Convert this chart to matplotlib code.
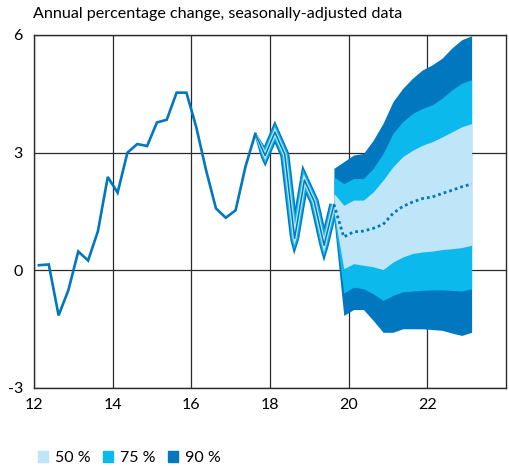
import matplotlib
matplotlib.use('Agg')
import matplotlib.pyplot as plt
import numpy as np
from matplotlib.patches import Patch

plt.rcParams['font.family'] = ['Lato', 'DejaVu Sans']
plt.rcParams['axes.unicode_minus'] = False

# Quarterly observations (mid-quarter positions), single line before the bands
hist_x = [12.125, 12.375, 12.625, 12.875, 13.125, 13.375, 13.625, 13.875,
          14.125, 14.375, 14.625, 14.875, 15.125, 15.375, 15.625, 15.875,
          16.125, 16.375, 16.625, 16.875, 17.125, 17.375, 17.625]
hist_y = [0.13, 0.15, -1.15, -0.5, 0.48, 0.25, 1.0, 2.38,
          1.98, 3.0, 3.22, 3.17, 3.77, 3.84, 4.53, 4.53,
          3.65, 2.55, 1.58, 1.34, 1.53, 2.64, 3.48]

# Recent observations still subject to revision (drawn inside a narrow band)
rev_x = [17.625, 17.875, 18.125, 18.375, 18.625, 18.875, 19.125, 19.375, 19.625]
rev_y = [3.48, 2.93, 3.52, 2.95, 0.82, 2.3, 1.75, 0.64, 1.68]

# Forecast fan
fan_x = [19.625, 19.875, 20.125, 20.375, 20.625, 20.875, 21.125, 21.375,
         21.625, 21.875, 22.125, 22.375, 22.625, 22.875, 23.125]
center = [1.68, 0.85, 0.98, 1.0, 1.07, 1.17, 1.45, 1.63,
          1.74, 1.83, 1.87, 1.96, 2.04, 2.13, 2.2]
hi90 = [2.6, 2.77, 2.94, 2.98, 3.32, 3.75, 4.3, 4.64,
        4.9, 5.11, 5.24, 5.41, 5.67, 5.88, 5.98]
lo90 = [1.3, -1.15, -1.0, -1.0, -1.28, -1.58, -1.58, -1.49,
        -1.49, -1.49, -1.51, -1.53, -1.6, -1.66, -1.58]
hi75 = [2.38, 2.21, 2.34, 2.34, 2.6, 2.98, 3.49, 3.79,
        4.0, 4.13, 4.22, 4.39, 4.6, 4.77, 4.86]
lo75 = [1.4, -0.58, -0.43, -0.47, -0.6, -0.77, -0.64, -0.55,
        -0.53, -0.51, -0.5, -0.5, -0.51, -0.53, -0.47]
hi50 = [1.96, 1.66, 1.79, 1.79, 2.0, 2.3, 2.64, 2.9,
        3.06, 3.19, 3.28, 3.4, 3.53, 3.66, 3.74]
lo50 = [1.5, 0.04, 0.17, 0.13, 0.09, 0.02, 0.21, 0.34,
        0.43, 0.47, 0.49, 0.53, 0.55, 0.58, 0.64]

x_ticks = [12, 14, 16, 18, 20, 22]
y_ticks = [-3, 0, 3, 6]
band_labels = ['50 %', '75 %', '90 %']

DARK = '#0077be'
MID = '#0bb9ec'
LIGHT = '#bfe5f8'

fig = plt.figure(figsize=(5.10, 4.66), dpi=100)
ax = fig.add_axes([0.0667, 0.1674, 0.9255, 0.7575])
ax.set_xlim(12, 24)
ax.set_ylim(-3, 6)


def band_stroke(xs, ys, hw, color, z, limit=3.6, hw_start=1.0):
    """Constant-width band (pixels) along a line, with clipped miter joins."""
    to_px = ax.transData
    to_data = ax.transData.inverted()
    p = to_px.transform(np.column_stack([xs, ys]))
    d = np.diff(p, axis=0)
    d /= np.linalg.norm(d, axis=1)[:, None]
    nrm = np.column_stack([-d[:, 1], d[:, 0]])
    polys = []
    for i in range(len(d)):
        h0 = hw_start if i == 0 else hw
        a, b = p[i], p[i + 1]
        polys.append([a + h0 * nrm[i], b + hw * nrm[i], b - hw * nrm[i], a - h0 * nrm[i]])
    for i in range(1, len(p) - 1):
        n0, n1 = nrm[i - 1], nrm[i]
        turn = d[i - 1][0] * d[i][1] - d[i - 1][1] * d[i][0]
        side = -1.0 if turn > 0 else 1.0  # outer side of the turn
        m = n0 + n1
        if np.linalg.norm(m) < 1e-9:
            continue
        m /= np.linalg.norm(m)
        cos_half = abs(np.dot(m, n0))
        length = min(hw / max(cos_half, 1e-6), limit * hw)
        v = p[i]
        polys.append([v, v + side * hw * n0, v + side * length * m, v + side * hw * n1])
    for poly in polys:
        xy = to_data.transform(np.array(poly))
        ax.fill(xy[:, 0], xy[:, 1], color=color, lw=0, zorder=z)


# revision band
band_stroke(rev_x, rev_y, 4.6, DARK, 2.0)
band_stroke(rev_x, rev_y, 3.2, MID, 2.1)
band_stroke(rev_x, rev_y, 1.9, LIGHT, 2.2)
ax.plot(rev_x, rev_y, color=DARK, lw=1.1, zorder=2.5)

# forecast fan
ax.fill_between(fan_x, lo90, hi90, color=DARK, lw=0, zorder=3)
ax.fill_between(fan_x, lo75, hi75, color=MID, lw=0, zorder=3.1)
ax.fill_between(fan_x, lo50, hi50, color=LIGHT, lw=0, zorder=3.2)

ax.plot(hist_x, hist_y, color=DARK, lw=1.9, zorder=5, solid_joinstyle='miter')
ax.plot(fan_x, center, color=DARK, lw=2.0, linestyle=(0, (1, 1.1)), zorder=5)

ax.set_xticks(x_ticks)
ax.set_xticklabels([str(v) for v in x_ticks])
ax.set_yticks(y_ticks)
ax.set_yticklabels([str(v) for v in y_ticks])
ax.tick_params(length=0, labelsize=11.5, colors='black')
ax.tick_params(axis='x', pad=7)
ax.tick_params(axis='y', pad=8)

ax.set_axisbelow(True)
ax.grid(True, color='#2a2a2a', lw=0.9)
for s in ax.spines.values():
    s.set_color('#2a2a2a')
    s.set_linewidth(1.0)

fig.text(0.064, 0.970, 'Annual percentage change, seasonally-adjusted data',
         fontsize=11.6, va='center', ha='left')

handles = [Patch(color=c) for c in (LIGHT, MID, DARK)]
fig.legend(handles, band_labels, loc='center left', bbox_to_anchor=(0.062, 0.017),
           ncol=3, frameon=False, fontsize=11.5, handlelength=0.6,
           handleheight=0.6, handletextpad=0.45, columnspacing=0.8,
           borderaxespad=0)

fig.savefig('out.png', dpi=100, facecolor='white')
